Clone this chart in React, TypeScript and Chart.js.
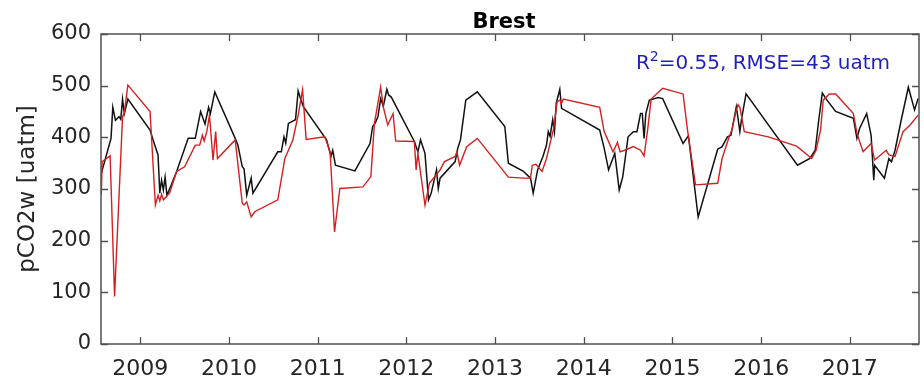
import { useEffect, useRef } from "react";
import { Chart, registerables } from "chart.js";

Chart.register(...registerables);

// Axis ticks
const yearTicks = [2009, 2010, 2011, 2012, 2013, 2014, 2015, 2016, 2017];
const valueTicks = [0, 100, 200, 300, 400, 500, 600];
const xMin = 2008.557;
const xMax = 2017.78;

// Measured pCO2w (decimal year, uatm)
const measuredTime = [
  2008.56, 2008.67, 2008.69, 2008.72, 2008.76, 2008.78, 2008.80, 2008.82, 2008.86,
  2009.11, 2009.15, 2009.20, 2009.22, 2009.24, 2009.26, 2009.28, 2009.30, 2009.35, 2009.41,
  2009.54, 2009.62, 2009.68, 2009.73, 2009.77, 2009.79, 2009.84,
  2010.07, 2010.10, 2010.15, 2010.17, 2010.20, 2010.25, 2010.27, 2010.55, 2010.59, 2010.62,
  2010.64, 2010.67, 2010.75, 2010.78, 2010.81, 2010.84,
  2011.10, 2011.15, 2011.17, 2011.20, 2011.42, 2011.59, 2011.62, 2011.65, 2011.68, 2011.71,
  2011.74, 2011.78, 2011.80, 2011.83,
  2012.09, 2012.13, 2012.16, 2012.21, 2012.25, 2012.28, 2012.34, 2012.36, 2012.38, 2012.55,
  2012.58, 2012.61, 2012.67, 2012.80,
  2013.11, 2013.15, 2013.32, 2013.40, 2013.43, 2013.48, 2013.54, 2013.58, 2013.60, 2013.62,
  2013.65, 2013.67, 2013.69, 2013.73, 2013.75,
  2014.18, 2014.23, 2014.28, 2014.35, 2014.40, 2014.44, 2014.50, 2014.56, 2014.60, 2014.64,
  2014.66, 2014.68, 2014.70, 2014.74, 2014.84, 2014.89,
  2015.12, 2015.18, 2015.29, 2015.51, 2015.56, 2015.62, 2015.66, 2015.72, 2015.74, 2015.76,
  2015.78, 2015.83,
  2016.41, 2016.55, 2016.61, 2016.65, 2016.69, 2016.73, 2016.84,
  2017.04, 2017.08, 2017.11, 2017.19, 2017.24, 2017.27, 2017.28, 2017.39, 2017.44, 2017.47,
  2017.51, 2017.58, 2017.66, 2017.73, 2017.77,
];
const measuredPco2 = [
  330, 398, 458, 433, 440, 435, 474, 446, 474,
  414, 392, 366, 292, 317, 298, 323, 288, 308, 334,
  398, 398, 450, 426, 458, 446, 488,
  398, 385, 343, 339, 288, 321, 292, 372, 372, 401,
  389, 427, 434, 490, 473, 459,
  395, 363, 375, 346, 335, 388, 421, 428, 440, 475,
  460, 493, 482, 478,
  392, 372, 395, 369, 279, 292, 337, 301, 321, 353,
  379, 395, 472, 488,
  421, 350, 334, 321, 292, 337, 363, 385, 411, 402,
  434, 411, 466, 493, 456,
  414, 379, 337, 369, 298, 324, 401, 411, 411, 446,
  446, 398, 446, 472, 477, 475,
  388, 403, 246, 377, 382, 401, 404, 459, 436, 411,
  436, 484,
  346, 359, 375, 434, 486, 475, 450,
  437, 398, 417, 446, 404, 317, 346, 321, 359, 353,
  375, 434, 497, 453, 475,
];

// Modelled pCO2w (decimal year, uatm)
const modelTime = [
  2008.56, 2008.57, 2008.66, 2008.71, 2008.80, 2008.82, 2008.86,
  2009.11, 2009.17, 2009.20, 2009.22, 2009.24, 2009.26, 2009.33, 2009.41, 2009.50, 2009.62,
  2009.67, 2009.70, 2009.72, 2009.75, 2009.78, 2009.82, 2009.85, 2009.87,
  2010.07, 2010.15, 2010.17, 2010.20, 2010.25, 2010.29, 2010.55, 2010.63, 2010.72, 2010.78,
  2010.83, 2010.87,
  2011.08, 2011.14, 2011.19, 2011.25, 2011.51, 2011.60, 2011.64, 2011.71, 2011.74, 2011.79,
  2011.85, 2011.88,
  2012.09, 2012.11, 2012.13, 2012.21, 2012.26, 2012.38, 2012.43, 2012.55, 2012.57, 2012.60,
  2012.68, 2012.80,
  2013.15, 2013.32, 2013.40, 2013.42, 2013.46, 2013.50, 2013.53, 2013.58, 2013.63, 2013.66,
  2013.70, 2013.73, 2013.75, 2013.77,
  2014.18, 2014.23, 2014.33, 2014.38, 2014.41, 2014.46, 2014.56, 2014.64, 2014.68, 2014.72,
  2014.76, 2014.89,
  2015.12, 2015.17, 2015.26, 2015.51, 2015.56, 2015.64, 2015.67, 2015.72, 2015.74, 2015.76,
  2015.78, 2015.81,
  2016.08, 2016.40, 2016.57, 2016.62, 2016.67, 2016.70, 2016.77, 2016.84,
  2017.04, 2017.08, 2017.11, 2017.15, 2017.24, 2017.28, 2017.41, 2017.44, 2017.51, 2017.60,
  2017.68, 2017.77,
];
const modelPco2 = [
  290, 353, 364, 92, 440, 448, 501,
  450, 269, 288, 277, 290, 279, 292, 334, 343, 385,
  385, 404, 393, 411, 443, 356, 411, 359,
  395, 272, 269, 275, 246, 256, 279, 359, 395, 443,
  492, 396,
  401, 372, 217, 301, 304, 324, 427, 497, 459, 424,
  446, 393,
  392, 337, 369, 269, 311, 337, 353, 363, 372, 346,
  382, 398,
  323, 321, 321, 346, 348, 340, 334, 359, 395, 417,
  469, 472, 466, 474,
  458, 411, 372, 390, 372, 375, 382, 375, 364, 414,
  474, 495,
  484, 414, 308, 311, 359, 401, 414, 453, 463, 458,
  440, 411,
  401, 383, 359, 375, 414, 472, 484, 484,
  446, 408, 392, 372, 388, 356, 375, 366, 363, 411,
  424, 443,
];

const siteName = "Brest";
const yAxisTitle = "pCO2w [uatm]";
const statsPrefix = "R";
const statsExponent = "2";
const statsRest = "=0.55, RMSE=43 uatm";

const FONT = "'DejaVu Sans', Verdana, sans-serif";
const AXIS_COLOR = "#262626";

const toPoints = (xs: number[], ys: number[]) => xs.map((x, i) => ({ x, y: ys[i] }));

// Boxed frame with inward ticks on all four sides, plus title and annotations
const framePlugin = {
  id: "boxFrame",
  afterDraw(chart: any) {
    const { ctx, chartArea: a, scales } = chart;
    ctx.save();
    ctx.strokeStyle = "#505050";
    ctx.lineWidth = 1.5;
    ctx.strokeRect(a.left, a.top, a.right - a.left, a.bottom - a.top);
    const tl = 7;
    ctx.lineWidth = 1.3;
    ctx.beginPath();
    for (const yr of yearTicks) {
      const x = Math.round(scales.x.getPixelForValue(yr)) + 0.5;
      ctx.moveTo(x, a.bottom);
      ctx.lineTo(x, a.bottom - tl);
      ctx.moveTo(x, a.top);
      ctx.lineTo(x, a.top + tl);
    }
    for (const v of valueTicks) {
      const y = Math.round(scales.y.getPixelForValue(v)) + 0.5;
      ctx.moveTo(a.left, y);
      ctx.lineTo(a.left + tl, y);
      ctx.moveTo(a.right, y);
      ctx.lineTo(a.right - tl, y);
    }
    ctx.stroke();

    // title
    ctx.fillStyle = "#000";
    ctx.font = `bold 21px ${FONT}`;
    ctx.textAlign = "center";
    ctx.textBaseline = "alphabetic";
    ctx.fillText(siteName, (a.left + a.right) / 2 - 6, 28);

    // y-axis title
    ctx.save();
    ctx.translate(34, (a.top + a.bottom) / 2);
    ctx.rotate(-Math.PI / 2);
    ctx.font = `23px ${FONT}`;
    ctx.fillStyle = AXIS_COLOR;
    ctx.textAlign = "center";
    ctx.fillText(yAxisTitle, 0, 0);
    ctx.restore();

    // statistics annotation
    ctx.fillStyle = "#1f1fbf";
    ctx.textAlign = "left";
    const big = `20px ${FONT}`;
    const small = `14px ${FONT}`;
    ctx.font = big;
    const w1 = ctx.measureText(statsPrefix).width;
    const w3 = ctx.measureText(statsRest).width;
    ctx.font = small;
    const w2 = ctx.measureText(statsExponent).width;
    const endX = 890;
    const baseY = 69;
    let x = endX - (w1 + w2 + w3);
    ctx.font = big;
    ctx.fillText(statsPrefix, x, baseY);
    x += w1;
    ctx.font = small;
    ctx.fillText(statsExponent, x, baseY - 8);
    x += w2;
    ctx.font = big;
    ctx.fillText(statsRest, x, baseY);
    ctx.restore();
  },
};

export default function App() {
  const canvasRef = useRef<HTMLCanvasElement | null>(null);

  useEffect(() => {
    if (!canvasRef.current) return;
    const chart = new Chart(canvasRef.current, {
      type: "line",
      data: {
        datasets: [
          {
            label: "model",
            data: toPoints(modelTime, modelPco2),
            borderColor: "#d42020",
            borderWidth: 1.4,
            pointRadius: 0,
            tension: 0,
            fill: false,
          },
          {
            label: "measured",
            data: toPoints(measuredTime, measuredPco2),
            borderColor: "#111111",
            borderWidth: 1.5,
            pointRadius: 0,
            tension: 0,
            fill: false,
          },
        ],
      },
      options: {
        animation: false,
        responsive: false,
        maintainAspectRatio: false,
        parsing: false as any,
        layout: { padding: { left: 0, top: 34, right: 5, bottom: 0 } },
        plugins: {
          legend: { display: false },
          tooltip: { enabled: false },
          title: { display: false },
        },
        scales: {
          x: {
            type: "linear",
            min: xMin,
            max: xMax,
            grid: { display: false, drawTicks: false },
            border: { display: false },
            afterBuildTicks: (s: any) => {
              s.ticks = yearTicks.map((v) => ({ value: v }));
            },
            afterFit: (s: any) => {
              s.height = 40;
            },
            ticks: {
              autoSkip: false,
              maxRotation: 0,
              padding: 12,
              color: AXIS_COLOR,
              font: { family: FONT, size: 22 },
              callback: (v: any) => String(v),
            },
          },
          y: {
            type: "linear",
            min: 0,
            max: 600,
            grid: { display: false, drawTicks: false },
            border: { display: false },
            afterBuildTicks: (s: any) => {
              s.ticks = valueTicks.map((v) => ({ value: v }));
            },
            afterFit: (s: any) => {
              s.width = 101;
            },
            ticks: {
              autoSkip: false,
              padding: 10,
              color: AXIS_COLOR,
              font: { family: FONT, size: 21 },
              callback: (v: any) => String(v),
            },
          },
        },
      },
      plugins: [framePlugin],
    });
    return () => chart.destroy();
  }, []);

  return (
    <div style={{ position: "fixed", left: 0, top: 0, width: 924, height: 384, background: "#fff" }}>
      <canvas ref={canvasRef} width={924} height={384} style={{ width: 924, height: 384 }} />
    </div>
  );
}
